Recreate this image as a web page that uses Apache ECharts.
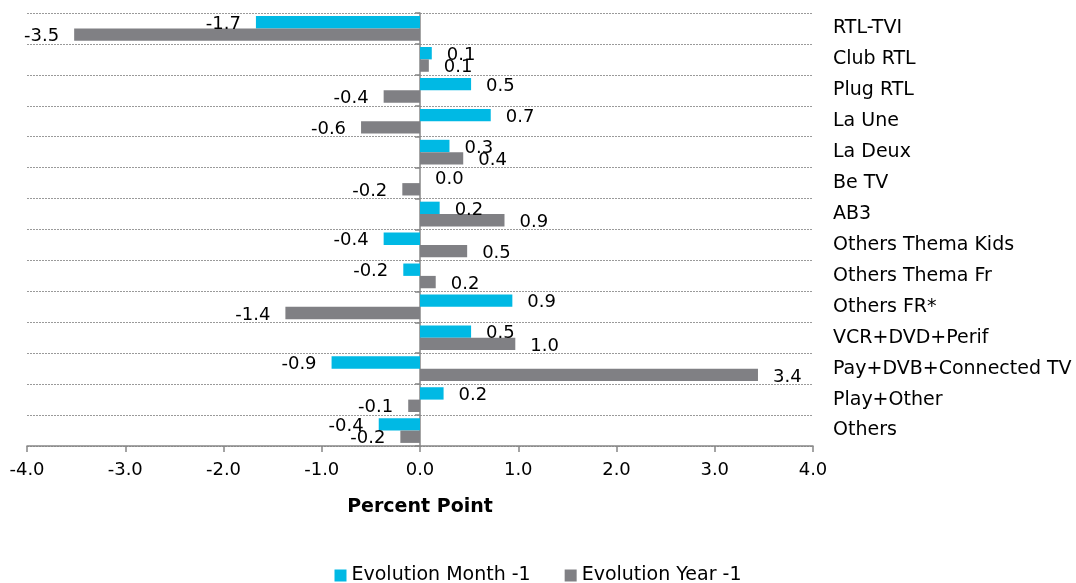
<!DOCTYPE html>
<html>
<head>
<meta charset="utf-8">
<script src="https://cdn.jsdelivr.net/npm/echarts@6/dist/echarts.min.js"></script>
<style>
html,body{margin:0;padding:0;background:#fff;}
#chart{width:1076px;height:583px;}
</style>
</head>
<body>
<div id="chart"></div>
<script>
const categories = ["RTL-TVI","Club RTL","Plug RTL","La Une","La Deux","Be TV","AB3","Others Thema Kids","Others Thema Fr","Others FR*","VCR+DVD+Perif","Pay+DVB+Connected TV","Play+Other","Others"];
const monthValues = [-1.67, 0.12, 0.52, 0.72, 0.30, 0.0, 0.2, -0.37, -0.17, 0.94, 0.52, -0.90, 0.24, -0.42];
const yearValues = [-3.52, 0.09, -0.37, -0.60, 0.44, -0.18, 0.86, 0.48, 0.16, -1.37, 0.97, 3.44, -0.12, -0.20];
const xTicks = [-4, -3, -2, -1, 0, 1, 2, 3, 4];
const seriesNames = ["Evolution Month -1", "Evolution Year -1"];

const FONT = "DejaVu Sans";
const chart = echarts.init(document.getElementById('chart'), null, {renderer: 'canvas'});

function toData(arr) {
  return arr.map(v => ({
    value: v,
    label: {position: v < 0 ? 'left' : 'right'}
  }));
}

const labelCfg = {
  show: true,
  distance: 15,
  color: '#000',
  fontFamily: FONT,
  fontSize: 18,
  offset: [0, 2],
  formatter: p => Number(p.value).toFixed(1)
};

chart.setOption({
  animation: false,
  textStyle: {fontFamily: FONT},
  grid: {left: 27, right: 263, top: 13, bottom: 137, containLabel: false},
  legend: {
    data: seriesNames,
    left: 'center',
    top: 561,
    icon: 'rect',
    itemWidth: 12,
    itemHeight: 12,
    itemGap: 34,
    textStyle: {fontFamily: FONT, fontSize: 19, color: '#000'}
  },
  xAxis: {
    type: 'value',
    min: xTicks[0],
    max: xTicks[xTicks.length - 1],
    interval: 1,
    name: 'Percent Point',
    nameLocation: 'middle',
    nameGap: 52,
    nameTextStyle: {fontFamily: FONT, fontSize: 19, fontWeight: 'bold', color: '#000'},
    axisLine: {show: true, onZero: false, lineStyle: {color: '#868686', width: 1.5}},
    axisTick: {show: true, length: 6, lineStyle: {color: '#868686', width: 1.5}},
    axisLabel: {
      margin: 15,
      color: '#000',
      fontFamily: FONT,
      fontSize: 18,
      formatter: v => Number(v).toFixed(1)
    },
    splitLine: {show: false}
  },
  yAxis: [
    {
      type: 'category',
      data: categories,
      inverse: true,
      position: 'left',
      axisLine: {show: true, onZero: true, lineStyle: {color: '#868686', width: 1.5}},
      axisTick: {show: true, length: 5, lineStyle: {color: '#868686', width: 1.5}},
      axisLabel: {show: false},
      splitLine: {show: true, lineStyle: {color: '#9a9a9a', type: [2, 1], width: 1}}
    },
    {
      type: 'category',
      data: categories,
      inverse: true,
      position: 'right',
      axisLine: {show: false},
      axisTick: {show: false},
      splitLine: {show: false},
      axisLabel: {
        show: true,
        margin: 20,
        align: 'left',
        color: '#000',
        fontFamily: FONT,
        fontSize: 19
      }
    }
  ],
  series: [
    {
      name: seriesNames[0],
      type: 'bar',
      yAxisIndex: 0,
      data: toData(monthValues),
      itemStyle: {color: '#00B9E4'},
      barGap: '0%',
      barCategoryGap: '20%',
      label: labelCfg
    },
    {
      name: seriesNames[1],
      type: 'bar',
      yAxisIndex: 0,
      data: toData(yearValues),
      itemStyle: {color: '#808084'},
      barGap: '0%',
      barCategoryGap: '20%',
      label: labelCfg
    }
  ]
});
</script>
</body>
</html>
